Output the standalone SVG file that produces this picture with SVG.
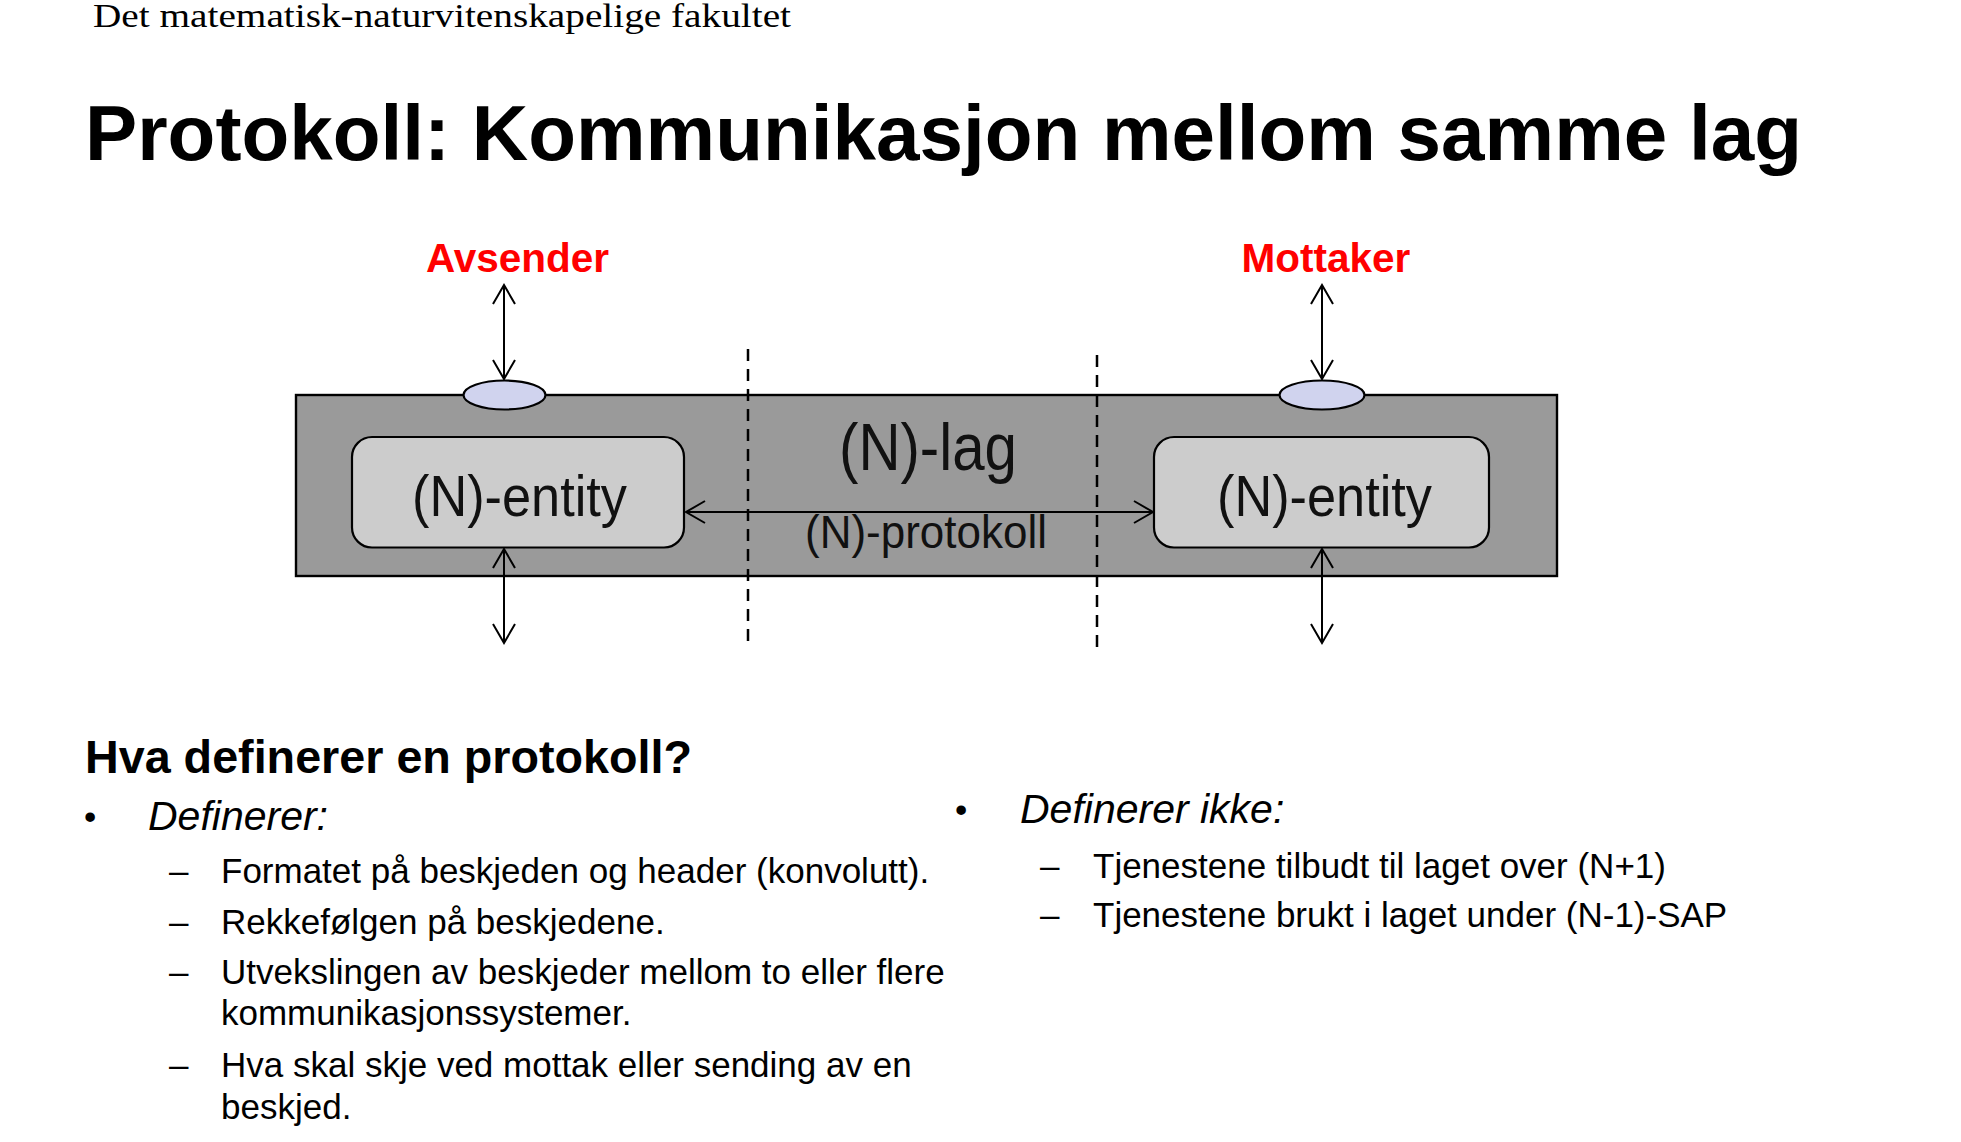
<svg xmlns="http://www.w3.org/2000/svg" width="1961" height="1142" viewBox="0 0 1961 1142">
  <style>
    .sans { font-family: "Liberation Sans", Arial, sans-serif; fill: #000; }
    .diag { font-family: "Liberation Sans", Arial, sans-serif; fill: #111; }
    .red { font-family: "Liberation Sans", Arial, sans-serif; font-weight: bold; font-size: 40.5px; fill: #ff0000; }
    .item { font-size: 35px; }
    .line { stroke: #000; stroke-width: 2; fill: none; }
    .dash { stroke: #000; stroke-width: 2.5; stroke-dasharray: 12 8; fill: none; }
    .entity { fill: #cccccc; stroke: #000; stroke-width: 2.2; }
    .sap { fill: #d0d3ee; stroke: #000; stroke-width: 2.2; }
  </style>
  <defs>
    <marker id="open-arrow" markerUnits="userSpaceOnUse" markerWidth="24" markerHeight="26" viewBox="0 0 24 26" refX="20" refY="13" orient="auto-start-reverse">
      <path d="M1,2 L20,13 L1,24" fill="none" stroke="#000" stroke-width="2"/>
    </marker>
  </defs>

  <rect width="1961" height="1142" fill="#ffffff"/>

  <!-- page header and title -->
  <g id="header">
    <text x="93" y="27" font-family="'Liberation Serif', 'Times New Roman', serif" font-size="34" textLength="698" lengthAdjust="spacingAndGlyphs" fill="#000">Det matematisk-naturvitenskapelige fakultet</text>
  </g>
  <g id="title">
    <text class="sans" x="85" y="160" font-size="78" font-weight="bold" textLength="1717" lengthAdjust="spacingAndGlyphs">Protokoll: Kommunikasjon mellom samme lag</text>
  </g>

  <!-- (N)-layer -->
  <g id="layer">
    <rect x="296" y="395" width="1261" height="181" fill="#9a9a9a" stroke="#000" stroke-width="2.4"/>
    <text class="diag" x="928" y="470" font-size="66" text-anchor="middle" textLength="178" lengthAdjust="spacingAndGlyphs">(N)-lag</text>
    <text class="diag" x="926" y="548" font-size="46" text-anchor="middle" textLength="242" lengthAdjust="spacingAndGlyphs">(N)-protokoll</text>
  </g>

  <!-- service access points -->
  <g id="sap-left">
    <ellipse class="sap" cx="504.5" cy="395" rx="41" ry="14.5"/>
  </g>
  <g id="sap-right">
    <ellipse class="sap" cx="1322" cy="395" rx="42.5" ry="14.5"/>
  </g>

  <!-- entities -->
  <g id="entity-left">
    <rect class="entity" x="352" y="437" width="332" height="110.5" rx="20" ry="20"/>
    <text class="diag" x="519.5" y="516" font-size="58" text-anchor="middle" textLength="215" lengthAdjust="spacingAndGlyphs">(N)-entity</text>
  </g>
  <g id="entity-right">
    <rect class="entity" x="1154" y="437" width="335" height="110.5" rx="20" ry="20"/>
    <text class="diag" x="1324.5" y="516" font-size="58" text-anchor="middle" textLength="215" lengthAdjust="spacingAndGlyphs">(N)-entity</text>
  </g>

  <!-- users -->
  <g id="avsender">
    <text class="red" x="517.5" y="272" text-anchor="middle">Avsender</text>
  </g>
  <g id="mottaker">
    <text class="red" x="1326" y="272" text-anchor="middle">Mottaker</text>
  </g>

  <!-- connectors -->
  <g id="connectors">
    <line class="line" x1="504" y1="285" x2="504" y2="379" marker-start="url(#open-arrow)" marker-end="url(#open-arrow)"/>
    <line class="line" x1="504" y1="549" x2="504" y2="643" marker-start="url(#open-arrow)" marker-end="url(#open-arrow)"/>
    <line class="line" x1="1322" y1="285" x2="1322" y2="379" marker-start="url(#open-arrow)" marker-end="url(#open-arrow)"/>
    <line class="line" x1="1322" y1="549" x2="1322" y2="643" marker-start="url(#open-arrow)" marker-end="url(#open-arrow)"/>
    <line class="line" x1="686" y1="512" x2="1153" y2="512" marker-start="url(#open-arrow)" marker-end="url(#open-arrow)"/>
    <line class="dash" x1="748" y1="349" x2="748" y2="644"/>
    <line class="dash" x1="1097" y1="355" x2="1097" y2="650"/>
  </g>

  <!-- text below the diagram -->
  <g id="defines">
    <text class="sans" x="85" y="773" font-size="46.7" font-weight="bold">Hva definerer en protokoll?</text>
    <text class="sans" x="84" y="829" font-size="35">•</text>
    <text class="sans" x="148" y="830" font-size="41" font-style="italic">Definerer:</text>
    <g class="sans item">
      <text x="169" y="883">–</text><text x="221" y="883">Formatet på beskjeden og header (konvolutt).</text>
      <text x="169" y="934">–</text><text x="221" y="934">Rekkefølgen på beskjedene.</text>
      <text x="169" y="984">–</text><text x="221" y="984">Utvekslingen av beskjeder mellom to eller flere</text>
      <text x="221" y="1025">kommunikasjonssystemer.</text>
      <text x="169" y="1077">–</text><text x="221" y="1077">Hva skal skje ved mottak eller sending av en</text>
      <text x="221" y="1119">beskjed.</text>
    </g>
  </g>
  <g id="not-defines">
    <text class="sans" x="955" y="822" font-size="35">•</text>
    <text class="sans" x="1020" y="823" font-size="41" font-style="italic">Definerer ikke:</text>
    <g class="sans item">
      <text x="1040" y="878">–</text><text x="1093" y="878">Tjenestene tilbudt til laget over (N+1)</text>
      <text x="1040" y="927">–</text><text x="1093" y="927">Tjenestene brukt i laget under (N-1)-SAP</text>
    </g>
  </g>
</svg>
